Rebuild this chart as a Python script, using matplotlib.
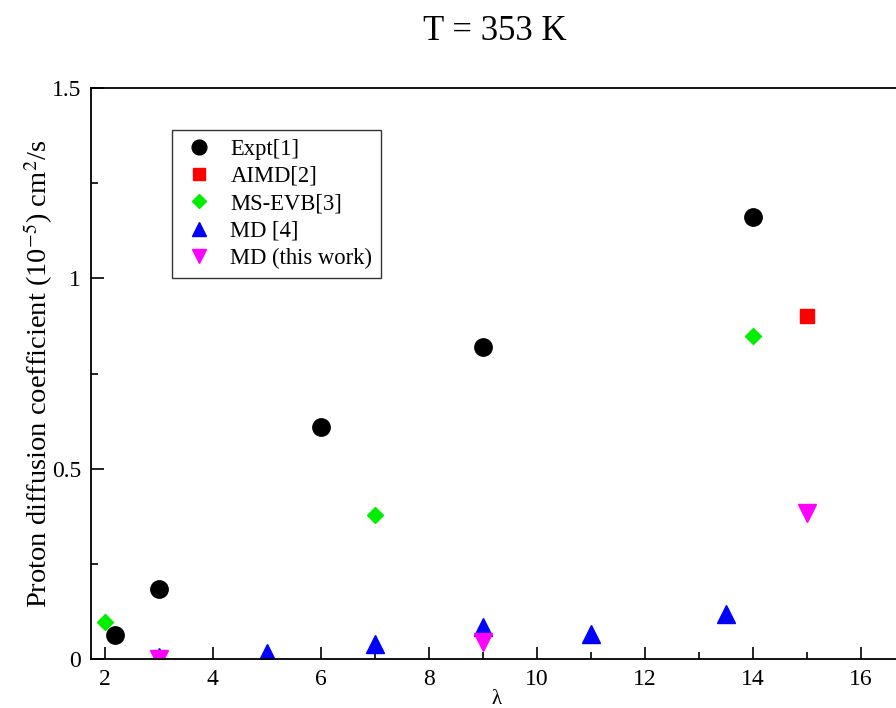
import numpy as np
import matplotlib
matplotlib.use("Agg")
import matplotlib.pyplot as plt
from matplotlib.ticker import MultipleLocator, FormatStrFormatter

plt.rcParams['font.family'] = ['Liberation Serif', 'DejaVu Serif']
plt.rcParams['mathtext.fontset'] = 'stix'

# data
expt_x = [2.2, 3, 6, 9, 14]
expt_y = [0.062, 0.184, 0.61, 0.82, 1.16]
aimd_x = [15]
aimd_y = [0.9]
evb_x = [2, 7, 14]
evb_y = [0.097, 0.378, 0.848]
md4_x = [3, 5, 7, 9, 11, 13.5]
md4_y = [0.006, 0.016, 0.04, 0.085, 0.066, 0.118]
mdtw_x = [3, 9, 15]
mdtw_y = [0.0, 0.044, 0.383]

fig = plt.figure(figsize=(8.96, 7.08), dpi=100)
ax = fig.add_axes([91/896, 49/708, 824/896, 571/708])

ax.plot(expt_x, expt_y, 'o', color='black', ms=12.5, ls='none', label='Expt[1]')
ax.plot(aimd_x, aimd_y, 's', color='red', ms=10.5, ls='none', label='AIMD[2]')
ax.plot(evb_x, evb_y, 'D', color='#00ee00', ms=8.5, ls='none', label='MS-EVB[3]')
ax.plot(md4_x, md4_y, '^', color='blue', ms=12.5, ls='none', label='MD [4]')
ax.plot(mdtw_x, mdtw_y, 'v', color='magenta', ms=12.5, ls='none', label='MD (this work)')

ax.set_xlim(1.75, 17)
ax.set_ylim(0, 1.5)
ax.xaxis.set_major_locator(MultipleLocator(2))
ax.xaxis.set_minor_locator(MultipleLocator(1))
ax.yaxis.set_major_locator(MultipleLocator(0.5))
ax.yaxis.set_minor_locator(MultipleLocator(0.25))
ax.yaxis.set_major_formatter(FormatStrFormatter('%g'))
ax.tick_params(which='major', direction='in', length=9, width=1.2, labelsize=17,
               top=False, right=False, pad=7)
ax.tick_params(which='minor', direction='in', length=5, width=1.2, top=False, right=False)
for s in ax.spines.values():
    s.set_linewidth(1.3)

ax.set_ylabel(r'Proton diffusion coefficient (10$^{\mathrm{-5}}$) cm$^{2}$/s', fontsize=20.5, labelpad=-2)
ax.set_xlabel('λ', fontsize=15)
ax.xaxis.set_label_coords((497 - 91) / 824, -(700 - 659) / 571)
ax.xaxis.label.set_va('center')
fig.text(495/896, 1 - 31/708, 'T = 353 K', ha='center', va='center', fontsize=25)

leg = ax.legend(loc='upper left', bbox_to_anchor=(172/896, 1 - 130/708),
                bbox_transform=fig.transFigure, fontsize=16.3, frameon=True,
                fancybox=False, edgecolor='black', borderpad=0.38,
                handletextpad=0.6, labelspacing=0.28, borderaxespad=0,
                markerscale=0.85, handlelength=1.6)
leg.get_frame().set_linewidth(1.0)

fig.savefig('out.png', dpi=100)
